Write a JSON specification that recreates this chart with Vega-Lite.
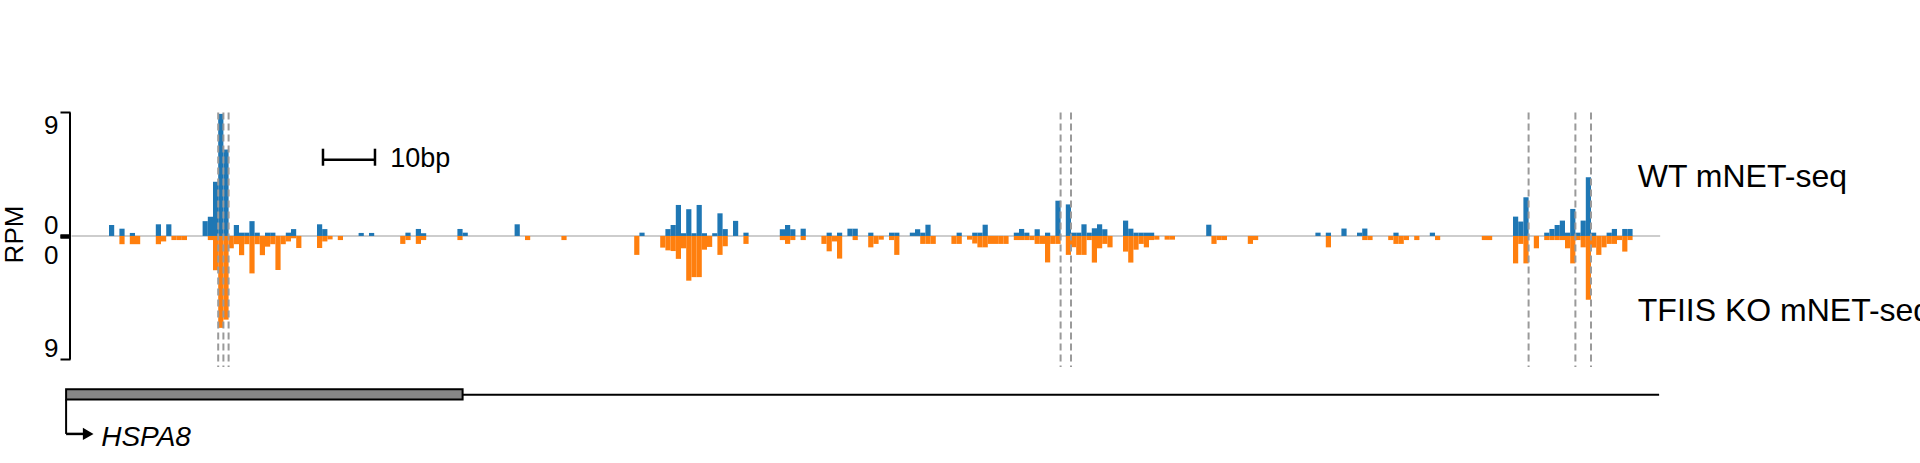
{
  "$schema": "https://vega.github.io/schema/vega-lite/v6.json",
  "width": 1850,
  "height": 463,
  "autosize": {"type": "none"},
  "padding": {"left": 70, "top": 0, "right": 0, "bottom": 0},
  "background": "white",
  "config": {"view": {"stroke": null}, "font": "Liberation Sans"},
  "datasets": {
    "signal": [
      {"pos": 8, "wt": 0.8, "ko": 0},
      {"pos": 10, "wt": 0.53, "ko": 0.6},
      {"pos": 12, "wt": 0.22, "ko": 0.6},
      {"pos": 13, "wt": 0, "ko": 0.6},
      {"pos": 17, "wt": 0.85, "ko": 0.6},
      {"pos": 18, "wt": 0, "ko": 0.4},
      {"pos": 19, "wt": 0.85, "ko": 0},
      {"pos": 20, "wt": 0, "ko": 0.3},
      {"pos": 21, "wt": 0, "ko": 0.3},
      {"pos": 22, "wt": 0, "ko": 0.3},
      {"pos": 26, "wt": 1.08, "ko": 0},
      {"pos": 27, "wt": 1.4, "ko": 0.3},
      {"pos": 28, "wt": 3.95, "ko": 2.5},
      {"pos": 29, "wt": 8.9, "ko": 6.7},
      {"pos": 30, "wt": 6.3, "ko": 6.1},
      {"pos": 31, "wt": 0, "ko": 0.9},
      {"pos": 32, "wt": 0.8, "ko": 0.6},
      {"pos": 33, "wt": 0.24, "ko": 1.4},
      {"pos": 34, "wt": 0.24, "ko": 0.6},
      {"pos": 35, "wt": 1.08, "ko": 2.73},
      {"pos": 36, "wt": 0.24, "ko": 0.6},
      {"pos": 37, "wt": 0, "ko": 1.4},
      {"pos": 38, "wt": 0.24, "ko": 0.78},
      {"pos": 39, "wt": 0.24, "ko": 0.6},
      {"pos": 40, "wt": 0, "ko": 2.48},
      {"pos": 41, "wt": 0, "ko": 0.6},
      {"pos": 42, "wt": 0.24, "ko": 0.4},
      {"pos": 43, "wt": 0.5, "ko": 0.17},
      {"pos": 44, "wt": 0, "ko": 0.88},
      {"pos": 48, "wt": 0.85, "ko": 0.88},
      {"pos": 49, "wt": 0.5, "ko": 0.4},
      {"pos": 50, "wt": 0, "ko": 0.25},
      {"pos": 52, "wt": 0, "ko": 0.3},
      {"pos": 56, "wt": 0.22, "ko": 0},
      {"pos": 58, "wt": 0.22, "ko": 0},
      {"pos": 64, "wt": 0, "ko": 0.58},
      {"pos": 65, "wt": 0.24, "ko": 0.3},
      {"pos": 67, "wt": 0.51, "ko": 0.58},
      {"pos": 68, "wt": 0.2, "ko": 0.3},
      {"pos": 75, "wt": 0.51, "ko": 0.3},
      {"pos": 76, "wt": 0.24, "ko": 0},
      {"pos": 86, "wt": 0.85, "ko": 0},
      {"pos": 88, "wt": 0, "ko": 0.3},
      {"pos": 95, "wt": 0, "ko": 0.3},
      {"pos": 109, "wt": 0, "ko": 1.38},
      {"pos": 110, "wt": 0.24, "ko": 0},
      {"pos": 114, "wt": 0, "ko": 0.85},
      {"pos": 115, "wt": 0.5, "ko": 1.05},
      {"pos": 116, "wt": 0.8, "ko": 1.1},
      {"pos": 117, "wt": 2.26, "ko": 1.67},
      {"pos": 118, "wt": 0.2, "ko": 0.9},
      {"pos": 119, "wt": 1.95, "ko": 3.26},
      {"pos": 120, "wt": 0.2, "ko": 3.0},
      {"pos": 121, "wt": 2.26, "ko": 3.0},
      {"pos": 122, "wt": 0.2, "ko": 1.0},
      {"pos": 123, "wt": 0, "ko": 0.8},
      {"pos": 124, "wt": 0.2, "ko": 0},
      {"pos": 125, "wt": 1.65, "ko": 1.38},
      {"pos": 126, "wt": 0.5, "ko": 0.75},
      {"pos": 128, "wt": 1.1, "ko": 0},
      {"pos": 130, "wt": 0.24, "ko": 0.58},
      {"pos": 137, "wt": 0.49, "ko": 0.3},
      {"pos": 138, "wt": 0.8, "ko": 0.58},
      {"pos": 139, "wt": 0.49, "ko": 0.3},
      {"pos": 141, "wt": 0.53, "ko": 0.3},
      {"pos": 145, "wt": 0, "ko": 0.58},
      {"pos": 146, "wt": 0.24, "ko": 1.12},
      {"pos": 147, "wt": 0, "ko": 0.4},
      {"pos": 148, "wt": 0.24, "ko": 1.65},
      {"pos": 150, "wt": 0.53, "ko": 0},
      {"pos": 151, "wt": 0.53, "ko": 0.3},
      {"pos": 154, "wt": 0.24, "ko": 0.83},
      {"pos": 155, "wt": 0, "ko": 0.58},
      {"pos": 156, "wt": 0, "ko": 0.27},
      {"pos": 158, "wt": 0.24, "ko": 0.3},
      {"pos": 159, "wt": 0.24, "ko": 1.38},
      {"pos": 162, "wt": 0.24, "ko": 0},
      {"pos": 163, "wt": 0.49, "ko": 0},
      {"pos": 164, "wt": 0.24, "ko": 0.58},
      {"pos": 165, "wt": 0.82, "ko": 0.58},
      {"pos": 166, "wt": 0, "ko": 0.58},
      {"pos": 170, "wt": 0, "ko": 0.58},
      {"pos": 171, "wt": 0.24, "ko": 0.58},
      {"pos": 173, "wt": 0, "ko": 0.27},
      {"pos": 174, "wt": 0.24, "ko": 0.55},
      {"pos": 175, "wt": 0.24, "ko": 0.83},
      {"pos": 176, "wt": 0.82, "ko": 0.83},
      {"pos": 177, "wt": 0, "ko": 0.58},
      {"pos": 178, "wt": 0, "ko": 0.58},
      {"pos": 179, "wt": 0, "ko": 0.58},
      {"pos": 180, "wt": 0, "ko": 0.58},
      {"pos": 182, "wt": 0.24, "ko": 0.3},
      {"pos": 183, "wt": 0.51, "ko": 0.3},
      {"pos": 184, "wt": 0.24, "ko": 0.3},
      {"pos": 185, "wt": 0, "ko": 0.3},
      {"pos": 186, "wt": 0.49, "ko": 0.58},
      {"pos": 187, "wt": 0, "ko": 0.58},
      {"pos": 188, "wt": 0.24, "ko": 1.93},
      {"pos": 189, "wt": 0, "ko": 0.58},
      {"pos": 190, "wt": 2.57, "ko": 0.58},
      {"pos": 192, "wt": 2.3, "ko": 1.38},
      {"pos": 193, "wt": 0.24, "ko": 0.82},
      {"pos": 194, "wt": 0.24, "ko": 1.38},
      {"pos": 195, "wt": 0.85, "ko": 1.38},
      {"pos": 196, "wt": 0.24, "ko": 0.3},
      {"pos": 197, "wt": 0.56, "ko": 1.94},
      {"pos": 198, "wt": 0.85, "ko": 0.9},
      {"pos": 199, "wt": 0.49, "ko": 0.58},
      {"pos": 200, "wt": 0, "ko": 0.83},
      {"pos": 203, "wt": 1.12, "ko": 1.14},
      {"pos": 204, "wt": 0.53, "ko": 1.94},
      {"pos": 205, "wt": 0.24, "ko": 1.0},
      {"pos": 206, "wt": 0.24, "ko": 0.58},
      {"pos": 207, "wt": 0.24, "ko": 0.83},
      {"pos": 208, "wt": 0.24, "ko": 0.3},
      {"pos": 209, "wt": 0, "ko": 0.27},
      {"pos": 211, "wt": 0, "ko": 0.27},
      {"pos": 212, "wt": 0, "ko": 0.27},
      {"pos": 219, "wt": 0.82, "ko": 0},
      {"pos": 220, "wt": 0, "ko": 0.58},
      {"pos": 221, "wt": 0, "ko": 0.3},
      {"pos": 222, "wt": 0, "ko": 0.3},
      {"pos": 227, "wt": 0, "ko": 0.58},
      {"pos": 228, "wt": 0, "ko": 0.3},
      {"pos": 240, "wt": 0.24, "ko": 0},
      {"pos": 242, "wt": 0.24, "ko": 0.83},
      {"pos": 245, "wt": 0.54, "ko": 0},
      {"pos": 248, "wt": 0.24, "ko": 0},
      {"pos": 249, "wt": 0.54, "ko": 0.3},
      {"pos": 250, "wt": 0, "ko": 0.3},
      {"pos": 254, "wt": 0, "ko": 0.3},
      {"pos": 255, "wt": 0.24, "ko": 0.58},
      {"pos": 256, "wt": 0, "ko": 0.58},
      {"pos": 257, "wt": 0, "ko": 0.3},
      {"pos": 259, "wt": 0, "ko": 0.3},
      {"pos": 262, "wt": 0.24, "ko": 0},
      {"pos": 263, "wt": 0, "ko": 0.3},
      {"pos": 272, "wt": 0, "ko": 0.3},
      {"pos": 273, "wt": 0, "ko": 0.3},
      {"pos": 278, "wt": 1.41, "ko": 2.0},
      {"pos": 279, "wt": 1.05, "ko": 0.58},
      {"pos": 280, "wt": 2.82, "ko": 2.0},
      {"pos": 282, "wt": 0, "ko": 0.9},
      {"pos": 284, "wt": 0.24, "ko": 0.3},
      {"pos": 285, "wt": 0.51, "ko": 0.3},
      {"pos": 286, "wt": 0.8, "ko": 0.3},
      {"pos": 287, "wt": 1.12, "ko": 0.3},
      {"pos": 288, "wt": 0.24, "ko": 0.9},
      {"pos": 289, "wt": 1.97, "ko": 2.0},
      {"pos": 290, "wt": 0.24, "ko": 0.3},
      {"pos": 291, "wt": 1.12, "ko": 0.83},
      {"pos": 292, "wt": 4.28, "ko": 4.65},
      {"pos": 293, "wt": 0.24, "ko": 0.85},
      {"pos": 294, "wt": 0, "ko": 1.38},
      {"pos": 295, "wt": 0, "ko": 0.83},
      {"pos": 296, "wt": 0.24, "ko": 0.58},
      {"pos": 297, "wt": 0.51, "ko": 0.58},
      {"pos": 298, "wt": 0, "ko": 0.3},
      {"pos": 299, "wt": 0.51, "ko": 1.14},
      {"pos": 300, "wt": 0.51, "ko": 0.3}
    ],
    "pauses": [
      {"pos": 28.5}, {"pos": 29.5}, {"pos": 30.5},
      {"pos": 190.5}, {"pos": 192.5},
      {"pos": 280.5}, {"pos": 289.5}, {"pos": 292.5}
    ],
    "gene": [
      {"name": "HSPA8", "exon_start": -0.75, "exon_end": 75.5, "gene_end": 305.6}
    ]
  },
  "layer": [
    {
      "layer": [
        {
          "data": {"values": [{}]},
          "mark": {"type": "rule", "color": "#bdbdbd", "strokeWidth": 1.5},
          "encoding": {
            "x": {"datum": 0.3, "type": "quantitative", "scale": {"domain": [0, 355.77], "nice": false, "zero": false, "padding": 0}, "axis": null},
            "x2": {"datum": 305.8},
            "y": {"datum": 0, "type": "quantitative", "scale": {"domain": [-16.55, 17.2], "nice": false, "zero": false, "padding": 0}}
          }
        },
        {
          "data": {"name": "signal"},
          "transform": [{"filter": "datum.wt > 0"}],
          "mark": {"type": "bar", "color": "#1f77b4", "size": 5.2},
          "encoding": {
            "x": {"field": "pos", "type": "quantitative", "scale": {"domain": [0, 355.77], "nice": false, "zero": false, "padding": 0}, "axis": null},
            "y": {
              "field": "wt", "type": "quantitative",
              "scale": {"domain": [-16.55, 17.2], "nice": false, "zero": false, "padding": 0},
              "axis": {
                "orient": "left", "values": [0, 9], "domain": false, "grid": false,
                "tickColor": "black", "tickSize": 10,
                "tickWidth": {"condition": {"test": "datum.value == 0", "value": 4}, "value": 2},
                "labelFontSize": 26, "labelColor": "black", "labelPadding": 2, "labelFont": "Liberation Sans",
                "labelBaseline": {"condition": {"test": "datum.value == 0", "value": "bottom"}, "value": "top"},
                "labelOffset": {"condition": {"test": "datum.value == 0", "value": 3}, "value": 0},
                "labelFlush": false, "labelOverlap": false,
                "title": "RPM", "titleFontSize": 26, "titleFontWeight": "normal", "titleColor": "black", "titleFont": "Liberation Sans",
                "titleAngle": 270, "titleX": -48, "titleY": 234, "titleAlign": "center", "titleBaseline": "alphabetic"
              }
            },
            "y2": {"datum": 0}
          }
        },
        {
          "data": {"values": [{}]},
          "mark": {"type": "rule", "color": "black", "strokeWidth": 2},
          "encoding": {
            "x": {"datum": 0, "type": "quantitative", "axis": null},
            "y": {"datum": 0, "type": "quantitative"},
            "y2": {"datum": 9}
          }
        },
        {
          "data": {"values": [{}]},
          "mark": {"type": "rule", "color": "black", "strokeWidth": 2.5},
          "encoding": {
            "x": {"datum": 48.65, "type": "quantitative", "axis": null},
            "x2": {"datum": 58.65},
            "y": {"datum": 5.56, "type": "quantitative"}
          }
        },
        {
          "data": {"values": [{"end": 48.65}, {"end": 58.65}]},
          "mark": {"type": "rule", "color": "black", "strokeWidth": 2.5},
          "encoding": {
            "x": {"field": "end", "type": "quantitative", "axis": null},
            "y": {"datum": 5.12, "type": "quantitative"},
            "y2": {"datum": 6.36}
          }
        },
        {
          "data": {"values": [{}]},
          "mark": {"type": "text", "align": "left", "baseline": "alphabetic", "fontSize": 27, "font": "Liberation Sans", "color": "black"},
          "encoding": {
            "x": {"datum": 61.6, "type": "quantitative", "axis": null},
            "y": {"datum": 5.03, "type": "quantitative"},
            "text": {"value": "10bp"}
          }
        },
        {
          "data": {"values": [{"label": "WT mNET-seq", "ypos": 3.59}, {"label": "TFIIS KO mNET-seq", "ypos": -6.17}]},
          "mark": {"type": "text", "align": "left", "baseline": "alphabetic", "fontSize": 32, "font": "Liberation Sans", "color": "black"},
          "encoding": {
            "x": {"datum": 301.5, "type": "quantitative", "axis": null},
            "y": {"field": "ypos", "type": "quantitative"},
            "text": {"field": "label"}
          }
        },
        {
          "data": {"name": "gene"},
          "mark": {"type": "rule", "color": "black", "strokeWidth": 2},
          "encoding": {
            "x": {"field": "exon_end", "type": "quantitative", "axis": null},
            "x2": {"field": "gene_end"},
            "y": {"datum": -11.57, "type": "quantitative"}
          }
        },
        {
          "data": {"name": "gene"},
          "mark": {"type": "rect", "fill": "#878787", "stroke": "black", "strokeWidth": 2},
          "encoding": {
            "x": {"field": "exon_start", "type": "quantitative", "axis": null},
            "x2": {"field": "exon_end"},
            "y": {"datum": -11.18, "type": "quantitative"},
            "y2": {"datum": -11.92}
          }
        },
        {
          "data": {"name": "gene"},
          "mark": {"type": "rule", "color": "black", "strokeWidth": 2},
          "encoding": {
            "x": {"field": "exon_start", "type": "quantitative", "axis": null},
            "y": {"datum": -11.92, "type": "quantitative"},
            "y2": {"datum": -14.43}
          }
        },
        {
          "data": {"name": "gene"},
          "mark": {"type": "rule", "color": "black", "strokeWidth": 2.5},
          "encoding": {
            "x": {"field": "exon_start", "type": "quantitative", "axis": null},
            "x2": {"datum": 2.6},
            "y": {"datum": -14.43, "type": "quantitative"}
          }
        },
        {
          "data": {"name": "gene"},
          "mark": {"type": "point", "shape": "triangle-right", "filled": true, "color": "black", "size": 150, "opacity": 1},
          "encoding": {
            "x": {"datum": 3.5, "type": "quantitative", "axis": null},
            "y": {"datum": -14.43, "type": "quantitative"}
          }
        },
        {
          "data": {"name": "gene"},
          "mark": {"type": "text", "align": "left", "baseline": "alphabetic", "fontSize": 28, "fontStyle": "italic", "font": "Liberation Sans", "color": "black"},
          "encoding": {
            "x": {"datum": 6.0, "type": "quantitative", "axis": null},
            "y": {"datum": -15.29, "type": "quantitative"},
            "text": {"field": "name"}
          }
        }
      ]
    },
    {
      "layer": [
        {
          "data": {"name": "signal"},
          "transform": [{"filter": "datum.ko > 0"}],
          "mark": {"type": "bar", "color": "#ff7f0e", "size": 5.2},
          "encoding": {
            "x": {"field": "pos", "type": "quantitative", "scale": {"domain": [0, 355.77], "nice": false, "zero": false, "padding": 0}, "axis": null},
            "y": {
              "field": "ko", "type": "quantitative",
              "scale": {"domain": [-17.2, 16.55], "nice": false, "zero": false, "reverse": true, "padding": 0},
              "axis": {
                "orient": "left", "values": [0, 9], "domain": false, "grid": false,
                "tickColor": "black", "tickSize": 10,
                "tickWidth": {"condition": {"test": "datum.value == 0", "value": 4}, "value": 2},
                "labelFontSize": 26, "labelColor": "black", "labelPadding": 2, "labelFont": "Liberation Sans",
                "labelBaseline": {"condition": {"test": "datum.value == 0", "value": "top"}, "value": "bottom"},
                "labelOffset": {"condition": {"test": "datum.value == 0", "value": 7}, "value": 2},
                "labelFlush": false, "labelOverlap": false,
                "title": null
              }
            },
            "y2": {"datum": 0}
          }
        },
        {
          "data": {"values": [{}]},
          "mark": {"type": "rule", "color": "black", "strokeWidth": 2},
          "encoding": {
            "x": {"datum": 0, "type": "quantitative", "axis": null},
            "y": {"datum": 0, "type": "quantitative"},
            "y2": {"datum": 9}
          }
        },
        {
          "data": {"name": "pauses"},
          "mark": {"type": "rule", "color": "#9a9a9a", "strokeWidth": 2, "strokeDash": [7, 4]},
          "encoding": {
            "x": {"field": "pos", "type": "quantitative", "axis": null},
            "y": {"datum": -9.0, "type": "quantitative"},
            "y2": {"datum": 9.55}
          }
        }
      ]
    }
  ],
  "resolve": {"scale": {"y": "independent"}}
}
